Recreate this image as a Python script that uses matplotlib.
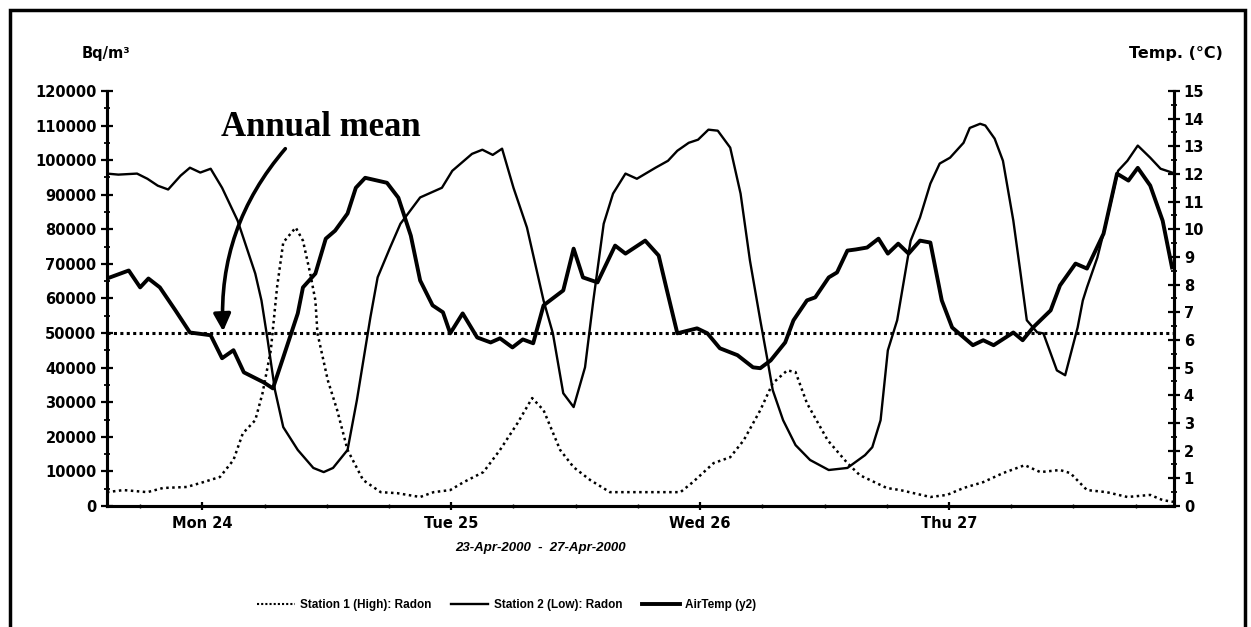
import matplotlib
matplotlib.use("Agg")
import matplotlib.pyplot as plt
from matplotlib.lines import Line2D
from matplotlib.patches import Rectangle
from matplotlib.ticker import MultipleLocator

# hours from Mon 24 00:00
s1_hours = [-9.2, -7.6, -5.3, -3.8, -1.5, 0.1, 1.7, 3.0, 3.9, 5.1, 5.8, 6.6, 7.2, 7.8, 9.0, 9.7,
            10.4, 10.9, 11.1, 12.1, 13.0, 14.0, 15.5, 17.2, 18.8, 21.0, 22.3, 23.9, 25.2, 27.1,
            28.7, 30.4, 31.8, 32.9, 34.5, 35.8, 37.4, 39.3, 41.6, 43.5, 46.1, 47.3, 49.3, 50.9,
            52.2, 53.8, 55.0, 56.4, 57.2, 58.3, 60.3, 62.2, 63.4, 66.0, 67.3, 70.2, 71.8, 73.4,
            75.3, 77.2, 79.3, 80.8, 82.7, 83.7, 85.3, 87.2, 89.2, 91.4, 92.6, 93.6]
s1_radon = [4000, 4600, 4000, 5200, 5500, 6900, 8400, 13300, 21000, 24800, 32600, 45000, 63200,
            76200, 80500, 76700, 67200, 59400, 49900, 36300, 27700, 16200, 7500, 4000, 3700, 2600,
            4000, 4600, 6900, 9800, 16200, 24000, 31200, 27700, 16200, 11200, 7500, 4000, 4000,
            4000, 4000, 6900, 12400, 14100, 19000, 27700, 35500, 39200, 38700, 29700, 19000,
            12400, 8900, 5200, 4600, 2600, 3200, 5200, 6900, 9500, 11800, 9800, 10400, 9500,
            4600, 4000, 2600, 3200, 1700, 1200]

s2_hours = [-9.2, -8.1, -6.3, -5.3, -4.3, -3.3, -2.1, -1.2, -0.2, 0.8, 1.9, 3.4, 5.1, 5.7, 6.3,
            7.0, 7.8, 9.2, 10.7, 11.7, 12.6, 14.0, 14.9, 16.2, 16.9, 18.1, 19.1, 21.0, 23.1, 24.1,
            26.0, 27.0, 28.0, 28.9, 30.0, 31.3, 32.9, 33.8, 34.8, 35.8, 36.9, 37.7, 38.7, 39.6,
            40.8, 41.9, 43.7, 44.9, 45.8, 46.9, 47.8, 48.8, 49.7, 50.9, 51.9, 52.8, 53.8, 54.5,
            55.0, 56.0, 57.2, 58.6, 60.4, 62.2, 63.9, 64.6, 65.4, 66.1, 67.0, 68.3, 69.2, 70.2,
            71.1, 72.1, 73.4, 74.0, 75.0, 75.5, 76.4, 77.2, 78.2, 78.9, 79.5, 80.5, 81.1, 82.4,
            83.2, 84.4, 84.9, 85.3, 86.3, 87.2, 88.3, 89.2, 90.2, 91.4, 92.4, 93.5]
s2_radon = [96100, 95800, 96100, 94600, 92600, 91500, 95500, 97800, 96400, 97500, 92000, 82500,
            67200, 59400, 47900, 33500, 22800, 16200, 11000, 9800, 11000, 16200, 30600, 54500,
            66100, 74700, 81600, 89200, 92000, 96900, 101800, 103000, 101500, 103300, 92000,
            80500, 59400, 49900, 32600, 28600, 40100, 59400, 81600, 90300, 96100, 94600, 97800,
            99800, 102700, 105000, 105900, 108800, 108500, 103600, 90300, 71000, 53700, 42100,
            33500, 24800, 17600, 13300, 10400, 11000, 14700, 17000, 24800, 45000, 53700, 76700,
            83400, 93200, 99000, 100700, 105000, 109300, 110500, 110000, 106200, 99800, 82500,
            67200, 53700, 50200, 49900, 39200, 37800, 51600, 59400, 63200, 71800, 82500, 96900,
            99800, 104200, 100700, 97500, 96400]

temp_hours = [-9.2, -7.1, -6.0, -5.2, -4.1, -2.6, -1.2, 0.8, 1.9, 3.0, 4.0, 5.9, 6.8, 7.8, 9.2,
              9.7, 10.9, 11.9, 12.8, 14.0, 14.8, 15.7, 17.8, 18.9, 20.1, 21.0, 22.2, 23.2, 23.9,
              25.1, 26.5, 27.8, 28.7, 29.9, 30.9, 31.9, 32.9, 34.8, 35.8, 36.7, 38.1, 39.8, 40.8,
              42.7, 44.0, 44.8, 45.8, 47.7, 48.7, 49.9, 51.6, 53.1, 53.8, 54.8, 56.2, 57.0, 58.3,
              59.1, 60.4, 61.2, 62.2, 63.0, 64.1, 65.2, 66.1, 67.1, 68.1, 69.2, 70.2, 71.3, 72.3,
              74.3, 75.3, 76.3, 78.2, 79.1, 80.1, 81.8, 82.7, 84.2, 85.3, 86.9, 88.2, 89.3, 90.2,
              91.4, 92.6, 93.5]
air_temp = [8.22, 8.51, 7.90, 8.22, 7.90, 7.07, 6.27, 6.17, 5.34, 5.63, 4.83, 4.47, 4.25, 5.37,
            6.96, 7.90, 8.40, 9.66, 9.95, 10.57, 11.50, 11.86, 11.68, 11.14, 9.77, 8.15, 7.25, 7.00,
            6.24, 6.96, 6.09, 5.91, 6.06, 5.73, 6.02, 5.88, 7.25, 7.79, 9.30, 8.26, 8.08, 9.41,
            9.12, 9.59, 9.05, 7.79, 6.24, 6.42, 6.24, 5.70, 5.45, 5.01, 4.98, 5.26, 5.91, 6.71,
            7.43, 7.54, 8.26, 8.44, 9.23, 9.27, 9.34, 9.66, 9.12, 9.48, 9.12, 9.59, 9.52, 7.43,
            6.45, 5.81, 5.99, 5.81, 6.27, 5.99, 6.45, 7.07, 7.97, 8.76, 8.58, 9.84, 12.01, 11.76,
            12.22, 11.58, 10.31, 8.62]

annual_mean = 50000
day_hours = [0, 24, 48, 72]
day_labels = ["Mon 24", "Tue 25", "Wed 26", "Thu 27"]

plt.rcParams.update({"font.family": "DejaVu Sans", "font.weight": "bold"})
fig = plt.figure(figsize=(12.51, 6.27), dpi=100)
ax = fig.add_axes([0.0855, 0.193, 0.853, 0.662])
ax2 = ax.twinx()

dots = (0, (1, 1.4))
ax.plot(s1_hours, s1_radon, color="black", lw=1.8, ls=dots)
ax.plot(s2_hours, s2_radon, color="black", lw=1.7)
ax.axhline(annual_mean, color="black", lw=2.2, ls=(0, (1, 1.1)))
ax2.plot(temp_hours, air_temp, color="black", lw=2.8)

ax.set_xlim(-9.2, 93.7)
ax.set_ylim(0, 120000)
ax2.set_ylim(0, 15)
ax.set_xticks(day_hours)
ax.set_xticklabels(day_labels)
ax.xaxis.set_minor_locator(MultipleLocator(6))
ax.yaxis.set_major_locator(MultipleLocator(10000))
ax.yaxis.set_minor_locator(MultipleLocator(5000))
ax2.yaxis.set_major_locator(MultipleLocator(1))
ax2.yaxis.set_minor_locator(MultipleLocator(0.5))

for a in (ax, ax2):
    a.spines["top"].set_visible(False)
    for s in ("left", "right", "bottom"):
        a.spines[s].set_linewidth(2.2)
    a.tick_params(which="major", direction="inout", length=8, width=1.6, labelsize=10.5)
    a.tick_params(which="minor", direction="inout", length=5, width=1.3)
ax.tick_params(axis="x", which="major", length=6, pad=4)
ax.tick_params(axis="x", which="minor", length=3, width=1)
ax2.tick_params(axis="y", pad=3)

fig.text(0.085, 0.915, "Bq/m³", ha="center", va="center", fontsize=10.5, fontweight="bold")
fig.text(0.94, 0.915, "Temp. (°C)", ha="center", va="center", fontsize=11.5, fontweight="bold")
fig.text(0.432, 0.126, "23-Apr-2000  -  27-Apr-2000", ha="center", va="center",
         fontsize=9.5, fontweight="bold", style="italic", family="Liberation Sans")

ax.text(11.4, 109300, "Annual mean", ha="center", va="center", fontsize=25,
        fontweight="bold", family="Liberation Serif")
ax.annotate("", xy=(2.0, 50500), xytext=(8.0, 103300),
            arrowprops=dict(arrowstyle="-|>", connectionstyle="arc3,rad=0.2", lw=2.6,
                            color="black", mutation_scale=26, shrinkA=0, shrinkB=0))

handles = [Line2D([], [], color="black", lw=1.5, ls=(0, (1, 1))),
           Line2D([], [], color="black", lw=1.7),
           Line2D([], [], color="black", lw=2.8)]
labels = ["Station 1 (High): Radon", "Station 2 (Low): Radon", "AirTemp (y2)"]
fig.legend(handles, labels, loc="center", bbox_to_anchor=(0.405, 0.035), ncol=3, frameon=False,
           prop={"family": "Liberation Sans", "weight": "bold", "size": 8.5},
           handlelength=3.2, handletextpad=0.5, columnspacing=1.6)

fig.patches.append(Rectangle((0.008, -0.1), 0.987, 1.084, transform=fig.transFigure,
                             fill=False, lw=2.5, color="black"))

fig.savefig("out.png", dpi=100)
